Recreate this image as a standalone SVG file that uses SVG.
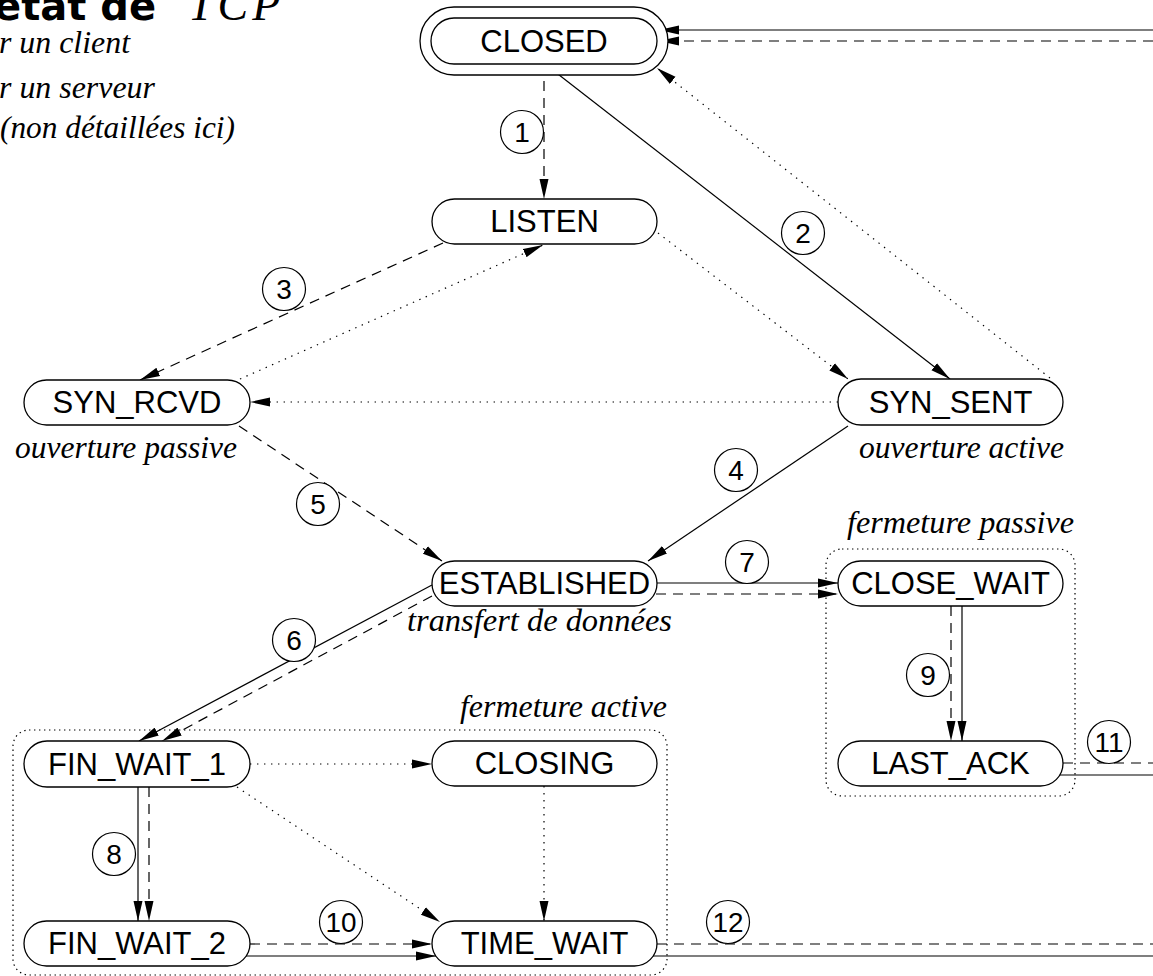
<svg xmlns="http://www.w3.org/2000/svg" width="1153" height="976" viewBox="0 0 1153 976">
  <defs>
    <style>
      .pill { fill: #fff; stroke: #000; stroke-width: 1.3; }
      .st { font-family: "Liberation Sans", Arial, sans-serif; font-size: 31px; text-anchor: middle; fill: #000; }
      .it { font-family: "Liberation Serif", "Times New Roman", serif; font-style: italic; font-size: 30.5px; fill: #000; }
      .lbl circle { fill: #fff; stroke: #000; stroke-width: 1.2; }
      .lbl text { font-family: "Liberation Sans", Arial, sans-serif; font-size: 28px; text-anchor: middle; fill: #000; }
      .ln { fill: none; stroke: #000; stroke-width: 1.2; }
      .dash { stroke-dasharray: 10 7; }
      .dot { stroke-dasharray: 1.4 5.6; }
      .grp { fill: none; stroke: #000; stroke-width: 1.2; stroke-dasharray: 1.4 3.6; }
    </style>
    <marker id="ah" markerUnits="userSpaceOnUse" viewBox="0 0 20 10" markerWidth="20" markerHeight="10" refX="20" refY="5" orient="auto">
      <path d="M0,0.5 L20,5 L0,9.5 z" fill="#000" stroke="none"/>
    </marker>
  </defs>

  <rect width="1153" height="976" fill="#fff"/>

  <!-- title and legend tails -->
  <g id="title">
    <text x="-6" y="20" font-family="'DejaVu Sans', sans-serif" font-weight="bold" font-size="40">état de</text>
    <text x="188" y="20" font-family="'Liberation Serif', serif" font-style="italic" font-size="46" letter-spacing="4">TCP</text>
    <text class="it" x="-1" y="53" textLength="131" lengthAdjust="spacingAndGlyphs">r un client</text>
    <text class="it" x="-1" y="98" textLength="156" lengthAdjust="spacingAndGlyphs">r un serveur</text>
    <text class="it" x="0" y="138" textLength="235" lengthAdjust="spacingAndGlyphs">(non détaillées ici)</text>
  </g>

  <!-- state groups -->
  <g id="group-passive">
    <rect class="grp" x="826" y="549" width="249" height="247" rx="16"/>
    <text class="it" x="847" y="533" textLength="227" lengthAdjust="spacingAndGlyphs">fermeture passive</text>
  </g>
  <g id="group-active">
    <rect class="grp" x="13" y="730" width="654" height="245" rx="16"/>
    <text class="it" x="460" y="717" textLength="207" lengthAdjust="spacingAndGlyphs">fermeture active</text>
  </g>

  <!-- connectors -->
  <g id="connectors">
    <path class="ln dash" d="M544,64 L544,199" marker-end="url(#ah)"/>
    <path class="ln" d="M545,64 L950,379" marker-end="url(#ah)"/>
    <path class="ln dash" d="M443,243 L140,380" marker-end="url(#ah)"/>
    <path class="ln dot" d="M240,379 L543,245" marker-end="url(#ah)"/>
    <path class="ln dot" d="M658,233 L848,379" marker-end="url(#ah)"/>
    <path class="ln dot" d="M1050,378 L657,68" marker-end="url(#ah)"/>
    <path class="ln dot" d="M838,402 L250,402" marker-end="url(#ah)"/>
    <path class="ln dash" d="M239,426 L442,561" marker-end="url(#ah)"/>
    <path class="ln" d="M848,426 L648,561" marker-end="url(#ah)"/>
    <path class="ln" d="M657,583 L838,583" marker-end="url(#ah)"/>
    <path class="ln dash" d="M656,594 L838,594" marker-end="url(#ah)"/>
    <path class="ln" d="M432,585 L139,741" marker-end="url(#ah)"/>
    <path class="ln dash" d="M432,596 L162,741" marker-end="url(#ah)"/>
    <path class="ln dash" d="M951,606 L951,741" marker-end="url(#ah)"/>
    <path class="ln" d="M962,606 L962,741" marker-end="url(#ah)"/>
    <path class="ln" d="M138,787 L138,921" marker-end="url(#ah)"/>
    <path class="ln dash" d="M149,787 L149,921" marker-end="url(#ah)"/>
    <path class="ln dot" d="M250,764 L432,764" marker-end="url(#ah)"/>
    <path class="ln dot" d="M237,787 L440,922" marker-end="url(#ah)"/>
    <path class="ln dot" d="M544,786 L544,921" marker-end="url(#ah)"/>
    <path class="ln dash" d="M250,944 L432,944" marker-end="url(#ah)"/>
    <path class="ln" d="M246,956 L436,956" marker-end="url(#ah)"/>
    <path class="ln dash" d="M657,944 L1153,944"/>
    <path class="ln" d="M653,956 L1153,956"/>
    <path class="ln dash" d="M1063,763 L1153,763"/>
    <path class="ln" d="M1058,775 L1153,775"/>
    <path class="ln" d="M1153,30 L659,30" marker-end="url(#ah)"/>
    <path class="ln dash" d="M1153,41 L659,41" marker-end="url(#ah)"/>
  </g>

  <!-- states -->
  <g id="closed">
    <rect class="pill" x="420" y="7" width="248" height="68" rx="34"/>
    <rect class="pill" x="431" y="18" width="226" height="46" rx="23"/>
    <text class="st" x="544" y="52">CLOSED</text>
  </g>
  <g id="listen">
    <rect class="pill" x="432" y="199" width="225" height="45" rx="22.5"/>
    <text class="st" x="544.5" y="232">LISTEN</text>
  </g>
  <g id="syn-rcvd">
    <rect class="pill" x="24" y="380" width="226" height="45" rx="22.5"/>
    <text class="st" x="137" y="413">SYN_RCVD</text>
    <text class="it" x="15" y="458" textLength="222" lengthAdjust="spacingAndGlyphs">ouverture passive</text>
  </g>
  <g id="syn-sent">
    <rect class="pill" x="838" y="379" width="225" height="46" rx="23"/>
    <text class="st" x="950.5" y="413">SYN_SENT</text>
    <text class="it" x="859" y="458" textLength="205" lengthAdjust="spacingAndGlyphs">ouverture active</text>
  </g>
  <g id="established">
    <rect class="pill" x="432" y="561" width="225" height="45" rx="22.5"/>
    <text class="st" x="544.5" y="594">ESTABLISHED</text>
    <text class="it" x="407" y="631" textLength="265" lengthAdjust="spacingAndGlyphs">transfert de données</text>
  </g>
  <g id="close-wait">
    <rect class="pill" x="838" y="561" width="225" height="45" rx="22.5"/>
    <text class="st" x="950.5" y="594">CLOSE_WAIT</text>
  </g>
  <g id="last-ack">
    <rect class="pill" x="838" y="741" width="225" height="45" rx="22.5"/>
    <text class="st" x="950.5" y="774">LAST_ACK</text>
  </g>
  <g id="fin-wait-1">
    <rect class="pill" x="24" y="741" width="226" height="46" rx="23"/>
    <text class="st" x="137" y="775">FIN_WAIT_1</text>
  </g>
  <g id="closing">
    <rect class="pill" x="432" y="741" width="225" height="45" rx="22.5"/>
    <text class="st" x="544.5" y="774">CLOSING</text>
  </g>
  <g id="fin-wait-2">
    <rect class="pill" x="24" y="921" width="226" height="45" rx="22.5"/>
    <text class="st" x="137" y="954">FIN_WAIT_2</text>
  </g>
  <g id="time-wait">
    <rect class="pill" x="432" y="921" width="225" height="45" rx="22.5"/>
    <text class="st" x="544.5" y="954">TIME_WAIT</text>
  </g>

  <!-- transition numbers -->
  <g id="labels" class="lbl">
    <g id="t1"><circle cx="522" cy="132" r="21.5"/><text x="522" y="142">1</text></g>
    <g id="t2"><circle cx="803" cy="233" r="21.5"/><text x="803" y="243">2</text></g>
    <g id="t3"><circle cx="284" cy="289" r="21.5"/><text x="284" y="299">3</text></g>
    <g id="t4"><circle cx="736" cy="470" r="21.5"/><text x="736" y="480">4</text></g>
    <g id="t5"><circle cx="318" cy="504" r="21.5"/><text x="318" y="514">5</text></g>
    <g id="t6"><circle cx="294" cy="640" r="21.5"/><text x="294" y="650">6</text></g>
    <g id="t7"><circle cx="747" cy="562" r="21.5"/><text x="747" y="572">7</text></g>
    <g id="t8"><circle cx="114" cy="854" r="21.5"/><text x="114" y="864">8</text></g>
    <g id="t9"><circle cx="928" cy="675" r="21.5"/><text x="928" y="685">9</text></g>
    <g id="t10"><circle cx="341" cy="922" r="21.5"/><text x="341" y="932" textLength="31" lengthAdjust="spacingAndGlyphs">10</text></g>
    <g id="t11"><circle cx="1109" cy="742" r="21.5"/><text x="1109" y="752" textLength="29" lengthAdjust="spacingAndGlyphs">11</text></g>
    <g id="t12"><circle cx="728" cy="922" r="21.5"/><text x="728" y="932" textLength="31" lengthAdjust="spacingAndGlyphs">12</text></g>
  </g>
</svg>
